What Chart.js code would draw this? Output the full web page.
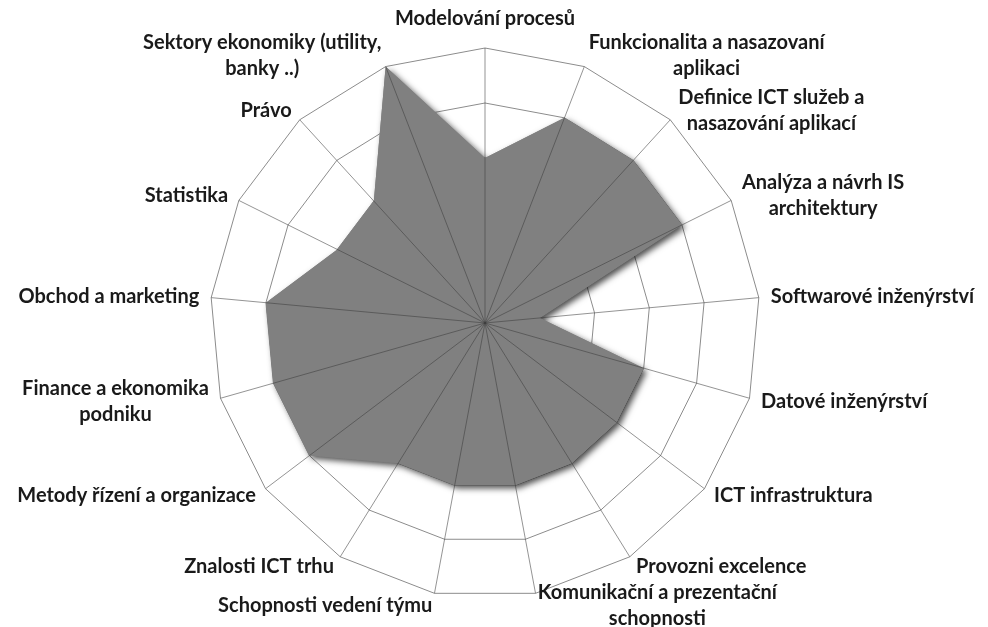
<!DOCTYPE html>
<html>
<head>
<meta charset="utf-8">
<script src="https://cdn.jsdelivr.net/npm/chart.js@4.4.1/dist/chart.umd.min.js"></script>
<style>
  html, body { margin: 0; padding: 0; background: #fff; }
  #wrap { width: 988px; height: 627px; position: relative; }
</style>
</head>
<body>
<div id="wrap"><canvas id="myChart"></canvas></div>
<script>
// categories clockwise from the top, multi-line labels as arrays
var categories = [
  'Modelování procesů',
  ['Funkcionalita a nasazovaní', 'aplikaci'],
  ['Definice ICT služeb a', 'nasazování aplikací'],
  ['Analýza a návrh IS', 'architektury'],
  'Softwarové inženýrství',
  'Datové inženýrství',
  'ICT infrastruktura',
  'Provozni excelence',
  ['Komunikační a prezentační', 'schopnosti'],
  'Schopnosti vedení týmu',
  'Znalosti ICT trhu',
  'Metody řízení a organizace',
  ['Finance a ekonomika', 'podniku'],
  'Obchod a marketing',
  'Statistika',
  'Právo',
  ['Sektory ekonomiky (utility,', 'banky ..)']
];
var values = [3, 4, 4, 4, 1, 3, 3, 3, 3, 3, 3, 4, 4, 4, 3, 3, 5];
var scaleMin = 0;
var scaleMax = 5;
var scaleStep = 1;

var fillColor = '#808080';
var labelFont = 'bold 20px Lato';
var labelLineHeight = 26;
var labelGap = 12;

// soft shadow under the filled area (like the Excel effect);
// the Filler plugin runs before inline plugins, so the shadow is
// painted first from the element positions and the fill covers it
var shadowPlugin = {
  id: 'shadow',
  beforeDatasetsDraw: function (chart) {
    var ctx = chart.ctx;
    var pts = chart.getDatasetMeta(0).data;
    ctx.save();
    ctx.shadowColor = 'rgba(0,0,0,0.7)';
    ctx.shadowBlur = 6;
    ctx.shadowOffsetX = 3;
    ctx.shadowOffsetY = 3;
    ctx.fillStyle = fillColor;
    ctx.beginPath();
    pts.forEach(function (pt, i) {
      if (i === 0) ctx.moveTo(pt.x, pt.y);
      else ctx.lineTo(pt.x, pt.y);
    });
    ctx.closePath();
    ctx.fill();
    ctx.restore();
  }
};

// spokes are drawn over the fill, labels placed beside the outer ring
var spokesAndLabels = {
  id: 'spokesAndLabels',
  afterDatasetsDraw: function (chart) {
    var ctx = chart.ctx;
    var scale = chart.scales.r;
    var n = chart.data.labels.length;
    var i, p;

    ctx.save();
    ctx.strokeStyle = 'rgba(60,60,60,0.55)';
    ctx.lineWidth = 1;
    for (i = 0; i < n; i++) {
      p = scale.getPointPosition(i, scale.drawingArea);
      ctx.beginPath();
      ctx.moveTo(scale.xCenter, scale.yCenter);
      ctx.lineTo(p.x, p.y);
      ctx.stroke();
    }
    ctx.restore();

    ctx.save();
    ctx.font = labelFont;
    ctx.fillStyle = '#1a1a1a';
    ctx.textAlign = 'center';
    ctx.textBaseline = 'middle';
    for (i = 0; i < n; i++) {
      var lines = [].concat(chart.data.labels[i]);
      var a = scale.getIndexAngle(i);
      var s = Math.sin(a), c = Math.cos(a);
      p = scale.getPointPosition(i, scale.drawingArea + labelGap);
      var w = 0;
      lines.forEach(function (l) { w = Math.max(w, ctx.measureText(l).width); });
      var h = lines.length * labelLineHeight;
      var left;
      if (Math.abs(s) < 0.05) left = p.x - w / 2;
      else if (s > 0) left = p.x;
      else left = p.x - w;
      var top;
      if (c > 0.99) top = p.y - h - 4;
      else if (c < -0.99) top = p.y;
      else top = p.y - h / 2;
      for (var k = 0; k < lines.length; k++) {
        ctx.fillText(lines[k], left + w / 2, top + labelLineHeight * (k + 0.5));
      }
    }
    ctx.restore();
  }
};

var ctx = document.getElementById('myChart').getContext('2d');
var myChart = new Chart(ctx, {
  type: 'radar',
  data: {
    labels: categories,
    datasets: [{
      data: values,
      backgroundColor: fillColor,
      borderWidth: 0,
      pointRadius: 0,
      fill: true
    }]
  },
  options: {
    responsive: true,
    maintainAspectRatio: false,
    animation: false,
    layout: { padding: { top: 48, bottom: 29, left: 0, right: 18 } },
    plugins: {
      legend: { display: false },
      tooltip: { enabled: false }
    },
    scales: {
      r: {
        min: scaleMin,
        max: scaleMax,
        ticks: { display: false, stepSize: scaleStep },
        grid: { color: '#8c8c8c', lineWidth: 1 },
        angleLines: { display: false },
        pointLabels: { display: false }
      }
    }
  },
  plugins: [shadowPlugin, spokesAndLabels]
});
</script>
</body>
</html>
